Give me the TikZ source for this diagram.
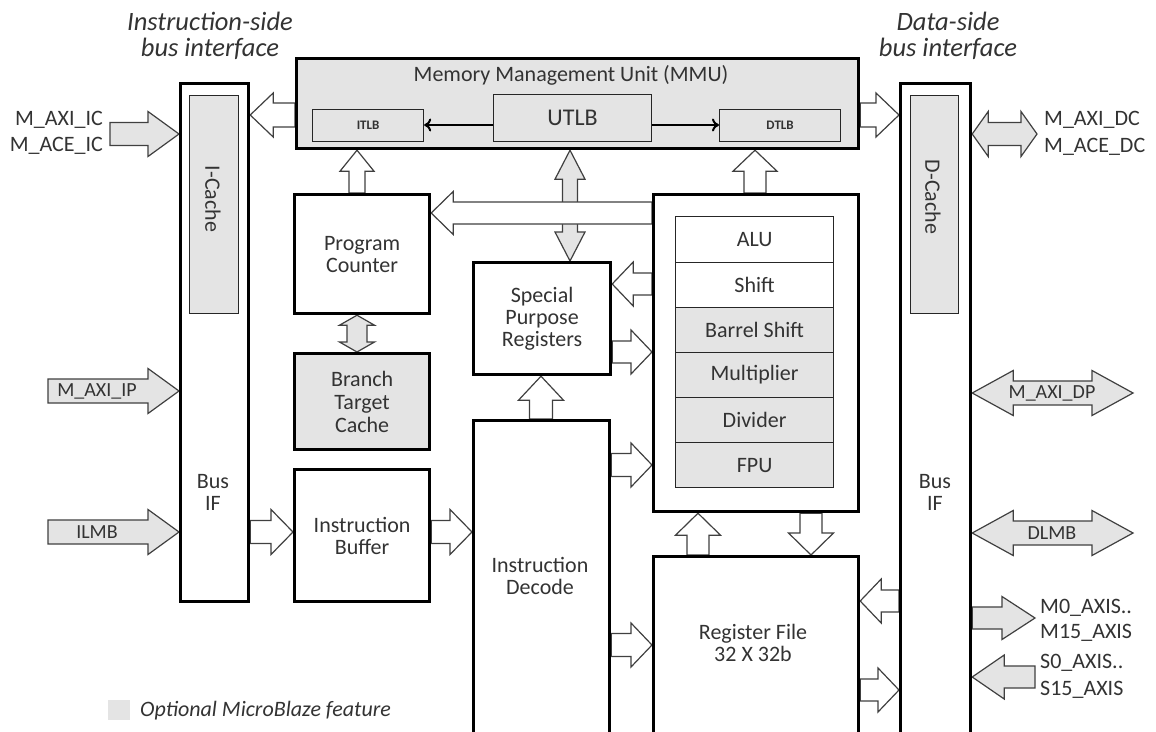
\documentclass[tikz,border=0pt]{standalone}
\usepackage{fontspec}
\setmainfont{Carlito}
\usetikzlibrary{calc,arrows.meta}
\definecolor{lg}{HTML}{E4E4E4}
\definecolor{tg}{HTML}{333333}
\definecolor{ag}{HTML}{404040}
\pgfdeclarelayer{bg}
\pgfdeclarelayer{paper}
\pgfsetlayers{paper,bg,main}
% #1 fill, #2 half shaft, #3 half head, #4 head length, #5 start, #6 tip
\newcommand\barrow[6]{%
  \coordinate (bA) at (#5);
  \coordinate (bB) at (#6);
  \coordinate (bC) at ($(bB)!#4pt!(bA)$);
  \draw[arr, fill=#1] ($(bA)!#2pt!90:(bB)$) -- ($(bC)!#2pt!90:(bB)$) -- ($(bC)!#3pt!90:(bB)$) -- (bB)
    -- ($(bC)!#3pt!-90:(bB)$) -- ($(bC)!#2pt!-90:(bB)$) -- ($(bA)!#2pt!-90:(bB)$) -- cycle;}
% double block arrow: #1 fill, #2 half shaft, #3 half head, #4 head length, #5 tip A, #6 tip B
\newcommand\dbarrow[6]{%
  \coordinate (bA) at (#5);
  \coordinate (bB) at (#6);
  \coordinate (bC) at ($(bA)!#4pt!(bB)$);
  \coordinate (bD) at ($(bB)!#4pt!(bA)$);
  \draw[arr, fill=#1] (bA) -- ($(bC)!#3pt!90:(bB)$) -- ($(bC)!#2pt!90:(bB)$) -- ($(bD)!#2pt!-90:(bA)$)
    -- ($(bD)!#3pt!-90:(bA)$) -- (bB) -- ($(bD)!#3pt!90:(bA)$) -- ($(bD)!#2pt!90:(bA)$)
    -- ($(bC)!#2pt!-90:(bB)$) -- ($(bC)!#3pt!-90:(bB)$) -- cycle;}
\begin{document}
\begin{tikzpicture}[x=1pt,y=-1pt,
  arr/.style={draw=ag, line width=1.2pt, line join=miter},
  box/.style={draw=black, line width=3.2pt, fill=white, anchor=north west, inner sep=0pt,
    align=center, text=tg, font=\fontsize{22}{22}\selectfont},
  inbox/.style={draw=black!85, line width=1.2pt, anchor=north west, inner sep=0pt,
    align=center, text=tg, font=\fontsize{22}{22}\selectfont},
  lbl/.style={text=tg, font=\fontsize{22}{22}\selectfont, align=center, inner sep=0pt},
  sml/.style={text=tg, font=\fontsize{20}{20}\selectfont, align=center, inner sep=0pt},
  hdr/.style={text=tg, font=\itshape\fontsize{26.5}{26}\selectfont, align=center, inner sep=0pt},
  tlb/.style={draw=black, line width=2pt, -{To[length=7pt,width=13pt,line width=2pt]}}
]
\useasboundingbox (0,0) rectangle (1156,731);
\begin{pgfonlayer}{paper}
  \fill[white] (0,0) rectangle (1156,731);
\end{pgfonlayer}

% headers
\node[hdr] (ihdr) at (210,36) {Instruction-side\\bus interface};
\node[hdr] (dhdr) at (948,36) {Data-side\\bus interface};

% bus interface blocks
\node[box, minimum width=68pt, minimum height=518pt] (ibus) at (179,82) {};
\node[inbox, fill=lg, minimum width=49pt, minimum height=218pt] (icache) at (189,95) {};
\node[lbl, rotate=-90] (iclbl) at (213,199) {I-Cache};
\node[lbl] (ibuslbl) at (213,492) {Bus\\IF};

\node[box, minimum width=70pt, minimum height=700pt] (dbus) at (899,82) {};
\node[inbox, fill=lg, minimum width=48pt, minimum height=218pt] (dcache) at (910,95) {};
\node[lbl, rotate=-90] (dclbl) at (933,197) {D-Cache};
\node[lbl] (dbuslbl) at (935,492) {Bus\\IF};

% MMU
\node[box, fill=lg, minimum width=562pt, minimum height=90pt] (mmu) at (295,57) {};
\node[lbl] (mmulbl) at (571,75) {Memory Management Unit (MMU)};
\node[inbox, fill=lg, minimum width=111pt, minimum height=32pt, font=\bfseries\fontsize{13}{14}\selectfont] (itlb) at (312,109) {ITLB};
\node[inbox, fill=lg, minimum width=158pt, minimum height=47pt, font=\fontsize{24}{25}\selectfont] (utlb) at (493,94) {UTLB};
\node[inbox, fill=lg, minimum width=121pt, minimum height=32pt, font=\bfseries\fontsize{13}{14}\selectfont] (dtlb) at (719,109) {DTLB};
\draw[tlb] (utlb.west |- 0,125) -- (itlb.east |- 0,125);
\draw[tlb] (utlb.east |- 0,125) -- (dtlb.west |- 0,125);

% left column
\node[box, minimum width=135pt, minimum height=119pt] (pc) at (293,193) {Program\\Counter};
\node[box, fill=lg, minimum width=135pt, minimum height=96pt, font=\fontsize{22}{23}\selectfont] (btc) at (293,352) {Branch\\Target\\Cache};
\node[box, minimum width=135pt, minimum height=132pt] (ibuf) at (293,468) {Instruction\\Buffer};

% middle column
\node[box, minimum width=137pt, minimum height=112pt] (spr) at (472,261) {Special\\Purpose\\Registers};
\node[box, minimum width=136pt, minimum height=330pt] (idec) at (472,419) {};
\node[lbl] (ideclbl) at (540,576) {Instruction\\Decode};

% execution units
\node[box, minimum width=205pt, minimum height=317pt] (alublk) at (652,193) {};
\node[inbox, fill=white, minimum width=158pt, minimum height=46pt] (alu) at (675,216) {ALU};
\node[inbox, fill=white, minimum width=158pt, minimum height=45pt] (shift) at (675,262) {Shift};
\node[inbox, fill=lg, minimum width=158pt, minimum height=45pt] (bshift) at (675,307) {Barrel Shift};
\node[inbox, fill=lg, minimum width=158pt, minimum height=45pt] (mult) at (675,352) {Multiplier};
\node[inbox, fill=lg, minimum width=158pt, minimum height=45pt] (div) at (675,397) {Divider};
\node[inbox, fill=lg, minimum width=158pt, minimum height=45pt] (fpu) at (675,442) {FPU};

\node[box, minimum width=205pt, minimum height=200pt] (rf) at (652,555) {};
\node[lbl] (rflbl) at (753,643) {Register File\\32 X 32b};

% legend
\node[fill=lg, minimum width=22pt, minimum height=20pt, anchor=north west, inner sep=0pt] (legsq) at (108,700) {};
\node[sml, anchor=west, font=\itshape\fontsize{22}{22}\selectfont] (legtxt) at (140,711) {Optional MicroBlaze feature};

% external labels
\node[lbl, anchor=east] (maxiic) at (103,120) {M\_AXI\_IC};
\node[lbl, anchor=east] (maceic) at (103,146) {M\_ACE\_IC};
\node[lbl, anchor=west] (maxidc) at (1044,120) {M\_AXI\_DC};
\node[lbl, anchor=west] (macedc) at (1044,147) {M\_ACE\_DC};
\node[lbl, anchor=west] (m0axis) at (1040,608) {M0\_AXIS..};
\node[lbl, anchor=west] (m15axis) at (1040,633) {M15\_AXIS};
\node[lbl, anchor=west] (s0axis) at (1040,663) {S0\_AXIS..};
\node[lbl, anchor=west] (s15axis) at (1040,690) {S15\_AXIS};

\begin{pgfonlayer}{bg}
  % MMU to bus interfaces
  \barrow{white}{12}{22}{23}{mmu.west |- 0,115}{ibus.east |- 0,115}
  \barrow{white}{12}{22}{23}{mmu.east |- 0,115}{dbus.west |- 0,115}
  % up to TLBs
  \barrow{white}{8}{17}{21}{pc.north -| 357,0}{mmu.south -| 357,0}
  \barrow{white}{11}{22}{21}{alublk.north -| 755,0}{mmu.south -| 755,0}
  % UTLB <-> SPR
  \dbarrow{lg}{7.5}{15}{29}{mmu.south -| 570,0}{spr.north -| 570,0}
  % ALU -> PC
  \barrow{white}{11}{21.5}{22}{alublk.west |- 0,213}{pc.east |- 0,213}
  % PC <-> BTC
  \dbarrow{lg}{10}{17.5}{10}{pc.south -| 357,0}{btc.north -| 357,0}
  % ALU <-> SPR
  \barrow{white}{11}{22}{21}{alublk.west |- 0,284}{spr.east |- 0,284}
  \barrow{white}{11}{22}{21}{spr.east |- 0,352}{alublk.west |- 0,352}
  % ID -> SPR
  \barrow{white}{11.5}{22.5}{24}{idec.north -| 541,0}{spr.south -| 541,0}
  % ID -> ALU, ID -> RF
  \barrow{white}{11.5}{22}{21}{idec.east |- 0,465}{alublk.west |- 0,465}
  \barrow{white}{11.5}{22}{21}{idec.east |- 0,645}{rf.west |- 0,645}
  % RF <-> ALU
  \barrow{white}{11}{22.5}{22}{rf.north -| 698,0}{alublk.south -| 698,0}
  \barrow{white}{11}{22.5}{22}{alublk.south -| 811,0}{rf.north -| 811,0}
  % D bus <-> RF
  \barrow{white}{11}{22}{21}{dbus.west |- 0,601}{rf.east |- 0,601}
  \barrow{white}{11}{22}{21}{rf.east |- 0,690}{dbus.west |- 0,690}
  % IB
  \barrow{white}{11.5}{22.5}{22}{ibus.east |- 0,532}{ibuf.west |- 0,532}
  \barrow{white}{11.5}{22.5}{22}{ibuf.east |- 0,532}{idec.west |- 0,532}
  % external instruction side
  \coordinate (icstart) at (110,134);
  \coordinate (ipstart) at (48,391);
  \coordinate (ilstart) at (48,532);
  \barrow{lg}{11.5}{22.5}{31}{icstart}{ibus.west |- icstart}
  \barrow{lg}{12}{22.5}{31}{ipstart}{ibus.west |- ipstart}
  \barrow{lg}{12}{22.5}{31}{ilstart}{ibus.west |- ilstart}
  % external data side
  \coordinate (dcend) at (1037,134);
  \coordinate (dpend) at (1133,393);
  \coordinate (dlend) at (1133,533);
  \coordinate (m0end) at (1035,618);
  \coordinate (s0start) at (1035,677);
  \dbarrow{lg}{11.5}{22.5}{16}{dbus.east |- dcend}{dcend}
  \dbarrow{lg}{12}{22.5}{41}{dbus.east |- dpend}{dpend}
  \dbarrow{lg}{12}{22.5}{41}{dbus.east |- dlend}{dlend}
  \barrow{lg}{11}{21.5}{33}{dbus.east |- m0end}{m0end}
  \barrow{lg}{11}{22}{32}{s0start}{dbus.east |- s0start}
\end{pgfonlayer}

% labels inside arrows
\node[sml] (maxiip) at (97,391) {M\_AXI\_IP};
\node[sml] (ilmb) at (97,532) {ILMB};
\node[sml] (maxidp) at (1052,393) {M\_AXI\_DP};
\node[sml] (dlmb) at (1052,533) {DLMB};
\end{tikzpicture}
\end{document}
